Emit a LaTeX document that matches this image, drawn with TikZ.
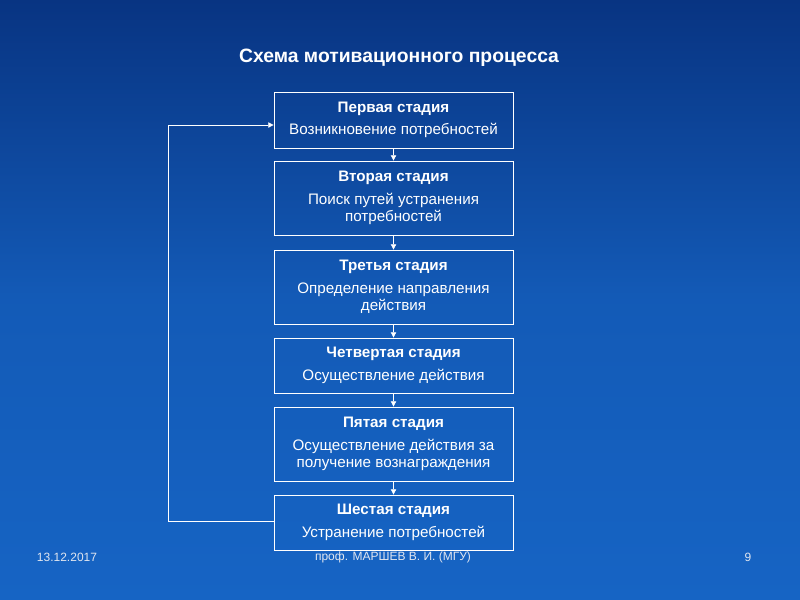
\documentclass[tikz,border=0pt]{standalone}
\usepackage{fontspec}
\setmainfont{Liberation Sans}
\usetikzlibrary{arrows.meta}
\definecolor{bgtop}{RGB}{8,52,130}
\definecolor{bgbot}{RGB}{22,100,196}
\definecolor{foot}{RGB}{225,230,240}
\tikzset{
 stage/.style={draw=white,line width=0.6pt,text=white,align=center,minimum width=239*0.75pt,font=\fontsize{11.4}{13}\selectfont,inner sep=0pt},
 arr/.style={draw=white,line width=0.6pt,-{Triangle[width=4pt,length=4pt]}},
 ft/.style={text=foot,font=\fontsize{9}{10}\selectfont,inner sep=0pt}
}
\begin{document}
\begin{tikzpicture}[x=0.75pt,y=-0.75pt]
\shade[top color=bgtop,bottom color=bgbot,middle color=bgbot!80!bgtop] (0,0) rectangle (800,600);
\useasboundingbox (0,0) rectangle (800,600);
\node[text=white,font=\bfseries\fontsize{14.5}{16}\selectfont] (title) at (399,58) {Схема мотивационного\ процесса};
\node[stage,minimum height=56*0.75pt] (s1) at (393.5,120) {\textbf{Первая стадия}\\[4pt]Возникновение потребностей};
\node[stage,minimum height=74*0.75pt] (s2) at (393.5,198) {\textbf{Вторая стадия}\\[4pt]Поиск путей устранения\\потребностей};
\node[stage,minimum height=74*0.75pt] (s3) at (393.5,287) {\textbf{Третья стадия}\\[4pt]Определение направления\\действия};
\node[stage,minimum height=55*0.75pt] (s4) at (393.5,365.5) {\textbf{Четвертая стадия}\\[4pt]Осуществление\ действия};
\node[stage,minimum height=74*0.75pt] (s5) at (393.5,444) {\textbf{Пятая стадия}\\[4pt]Осуществление\ действия за\\получение\ вознаграждения};
\node[stage,minimum height=55*0.75pt] (s6) at (393.5,522.5) {\textbf{Шестая стадия}\\[4pt]Устранение потребностей};
\draw[arr] (s1.south) -- (s2.north);
\draw[arr] (s2.south) -- (s3.north);
\draw[arr] (s3.south) -- (s4.north);
\draw[arr] (s4.south) -- (s5.north);
\draw[arr] (s5.south) -- (s6.north);
\coordinate (c1) at (168,521);
\coordinate (c2) at (168,125);
\draw[arr] (s6.west |- c1) -- (c1) -- (c2) -- (s1.west |- c2);
\node[ft] (d) at (67,557) {13.12.2017};
\node[ft] (a) at (393,557) {проф. МАРШЕВ В. И. (МГУ)};
\node[ft] (p) at (748,557) {9};
\end{tikzpicture}
\end{document}
